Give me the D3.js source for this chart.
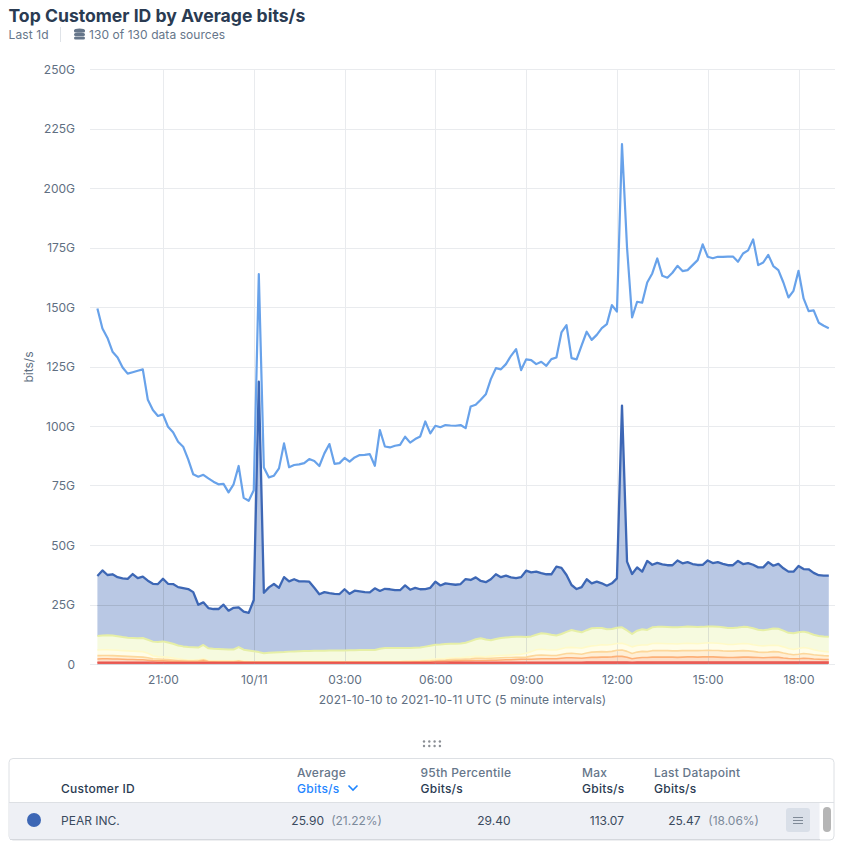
<!DOCTYPE html>
<html><head><meta charset="utf-8">
<script src="https://cdn.jsdelivr.net/npm/d3@7"></script>
<style>
html,body{margin:0;padding:0;background:#fff}
svg{display:block;font-family:Inter,"Noto Sans",sans-serif}
.tick line{display:none}.domain{display:none}
</style></head><body><svg id="c" width="843" height="849"></svg>
<script>
const startTime = "2021-10-10T18:50:00Z";
const stepMinutes = 10;
const yTicks = [0,25,50,75,100,125,150,175,200,225,250];
const xTickTimes = ["2021-10-10T21:00:00Z","2021-10-11T00:00:00Z","2021-10-11T03:00:00Z","2021-10-11T06:00:00Z","2021-10-11T09:00:00Z","2021-10-11T12:00:00Z","2021-10-11T15:00:00Z","2021-10-11T18:00:00Z"];
const xTickLabels = ["21:00","10/11","03:00","06:00","09:00","12:00","15:00","18:00"];

const totalLine = [149.4,141,137,131.2,128.8,124.6,122,122.6,123.2,123.8,
111,106.7,104.2,104.9,99.7,97.4,93.4,91.3,86,79.7,
78.7,79.5,78,76.6,75.5,75.7,72.1,75.5,83.2,69.8,
68.6,73,163.8,82.6,78.4,79.1,82.2,92.7,82.7,83.6,
83.9,84.4,86.1,85.3,83.2,88.5,92.4,84.1,84.4,86.6,
85,86.8,87.8,87.9,88.2,83.3,98.3,91.4,91,91.7,
92.1,95.5,93,94.5,95.6,101.9,96.9,100.1,99.5,100.4,
100.2,100.1,100.4,99.1,108.2,108.9,111,113.3,119.7,124.3,
123.8,126,129.5,132.3,123.5,128,127.7,126,127,125.3,
128.1,128.8,139.3,142.4,128.5,128,133.9,139.6,136.2,138.3,
141.1,142.8,150.8,148.1,218.4,175,145.6,152.2,151.8,160.3,
164.1,170.4,163.1,162.3,164.4,167.3,165.1,165.5,167.6,169.7,
176.3,171.1,170.5,171.1,171.1,171.2,171.2,169,172.5,173.8,
178.4,167.6,168.7,171.9,167.2,165.5,160.3,154,156.8,165.2,
153.6,148.3,148.6,143.4,142.1,141.1];

const pearTop = [37,39.3,37.4,37.7,36.5,36,35.8,37.8,36.1,36.7,
35,33.7,33.6,35.8,33.7,33.6,32.3,31.9,31.5,30.2,
24.9,25.9,23.5,23.1,23.1,24.9,22.4,23.6,23.8,22,
21.5,26.9,118.6,29.9,32.2,33.6,32,36.5,34.7,35.6,
34.7,34.7,34.6,32,29.3,30.2,29.8,29.5,29.4,31.4,
29.5,30.8,30.5,30.2,30.1,31.8,30.7,31.6,31.4,31,
31,33,31.2,32,31.4,31.5,32,34.6,33,33.9,
33.6,33.3,33.6,35.7,35.3,36.4,34.9,34.4,35.6,37.7,
36.5,37.1,36.4,36.1,36.5,39.2,38.5,38.8,38.2,37.7,
37.7,40.9,40.4,37.4,33.2,31.5,32.3,35.6,33.9,34.6,
33.9,32.9,33.9,36,108.6,43,37.8,40.6,38.8,43.3,
41.7,42.5,41.9,41.5,41.5,43.5,42.3,42.8,42,41.6,
41.7,43.5,42.4,42.8,42.1,41.5,41.5,43.3,42,42.4,
41.7,40.6,40.6,42.8,41.3,42.1,40.2,38.8,38.8,41.2,
39.9,39.8,38.3,37.3,37.1,37.1];

const greenTop = [11.8,12,12.1,12,11.7,11.3,11,10.9,10.8,10.9,
10.2,9.4,9.2,9.5,9,8.5,7.8,7.4,7.1,7,
6.9,8,6.6,6.4,6.3,6.2,6.1,6.1,7.1,6,
5.7,5.4,5,4.5,4.7,4.8,4.9,5,5.2,5.3,
5.4,5.5,5.5,5.6,5.6,5.6,5.7,5.7,5.7,5.7,
5.8,5.8,5.9,5.9,5.9,5.9,6.4,6.7,6.7,6.7,
6.7,6.7,6.7,6.8,6.9,7.3,7.7,8.1,8.2,8.4,
8.5,8.5,8.6,8.9,9.6,10.4,10.8,10.3,10,10.5,
10.9,11.1,11.3,11.5,11.4,11.3,11.6,12.3,12.9,12.7,
12.3,12,12.6,13.5,14.3,13.8,13.3,14.2,15,15.1,
15.1,14.6,14.7,15.2,15.4,14.1,12.6,14,14.6,14.3,
15.4,15.6,15.6,15.5,15.4,15.4,15.6,15.8,15.7,15.5,
15.6,15.8,15.8,15.7,15.4,15.1,15.1,15.3,15.6,15.5,
15,14.4,14.2,14.5,14.9,14.8,14,13.1,12.9,13.3,
13.6,13.1,12.3,11.8,11.6,11.5];

const paleTop = [5.9,6,6,5.9,5.8,5.6,5.5,5.4,5.3,5.2,
4.5,3.5,3.1,3,2.8,2.5,2.2,1.9,1.7,1.7,
1.8,2.2,1.5,1.3,1.3,1.3,1.3,1.3,1.5,1.2,
1,0.9,0.85,0.85,0.85,0.85,0.85,0.85,0.85,0.85,
0.85,0.85,0.85,0.85,0.85,0.85,0.85,0.85,0.85,0.85,
0.85,0.85,0.85,0.85,0.9,0.9,0.9,1,1,1,
1.1,1.1,1.2,1.3,1.5,1.7,1.9,2.1,2.2,2.3,
2.5,2.6,2.6,2.8,3,3.2,3.1,3,3.3,3.5,
3.6,3.7,3.8,4,4.1,4.5,5.2,6,6.2,6,
5.9,5.9,6.4,6.9,7,6.8,6.6,7.2,7.6,7.8,
8.1,8,8.2,8.6,8.7,8.1,7.2,7.8,8,8,
8.6,8.7,8.6,8.5,8.5,8.4,8.6,8.7,8.6,8.5,
8.7,8.9,8.8,8.7,8.5,8.2,8.2,8.4,8.6,8.5,
8.1,7.8,7.6,7.8,7.9,7.8,7.2,6.5,6.1,6.5,
6.9,6.6,6,5.6,5.3,5.1];

const lightOrangeTop = [3.5,3.6,3.6,3.5,3.4,3.3,3.2,3.1,3,2.9,
2.6,2.2,2.1,2,1.9,1.7,1.5,1.4,1.3,1.3,
1.4,1.8,1.1,1,1,1,1,1,1.2,0.9,
0.85,0.85,0.85,0.85,0.85,0.85,0.85,0.85,0.85,0.85,
0.85,0.85,0.85,0.85,0.85,0.85,0.85,0.85,0.85,0.85,
0.85,0.85,0.85,0.85,0.85,0.85,0.85,0.9,0.9,0.9,
0.95,1,1,1.05,1.1,1.2,1.3,1.5,1.6,1.7,
1.9,2,2,2.1,2.2,2.4,2.4,2.3,2.4,2.5,
2.6,2.7,2.7,2.8,2.8,2.9,3.3,3.7,3.8,3.7,
3.6,3.6,4,4.4,4.5,4.3,4.1,4.6,5,5.1,
5.2,5.1,5.3,5.8,5.9,5.3,4.4,5,5.3,5.2,
5.6,5.7,5.6,5.6,5.5,5.5,5.6,5.7,5.6,5.6,
5.7,5.8,5.7,5.7,5.5,5.4,5.4,5.5,5.6,5.5,
5.3,5,4.9,5,5.2,5.1,4.6,4.2,3.9,4.1,
4.4,4.2,3.9,3.7,3.5,3.4];

const orangeTop = [2.1,2.2,2.2,2.1,2.1,2,1.9,1.9,1.8,1.8,
1.6,1.4,1.3,1.3,1.2,1.1,1.1,1,0.9,0.9,
1,1.3,0.9,0.9,0.85,0.85,0.85,0.85,1,0.85,
0.8,0.8,0.8,0.8,0.8,0.8,0.8,0.8,0.8,0.8,
0.8,0.8,0.8,0.8,0.8,0.8,0.8,0.8,0.8,0.8,
0.8,0.8,0.8,0.8,0.8,0.8,0.8,0.8,0.8,0.8,
0.85,0.85,0.85,0.9,0.9,0.95,0.95,1,1.1,1.2,
1.2,1.3,1.3,1.4,1.4,1.5,1.5,1.5,1.6,1.6,
1.7,1.8,1.8,1.9,2,2,2,2.1,2.2,2.2,
2.2,2.2,2.4,2.6,2.6,2.5,2.4,2.6,2.8,2.8,
2.9,2.9,3,3.2,3.2,2.8,2.2,2.5,2.7,2.7,
2.9,2.9,2.9,2.9,2.9,2.8,2.9,3,3,2.9,
3,3,3,2.9,2.8,2.7,2.7,2.8,2.9,2.9,
2.8,2.7,2.6,2.7,2.8,2.8,2.5,2.3,2.2,2.2,
2.4,2.3,2.1,2,1.9,1.9];

const redTop = [0.8,0.8,0.8,0.8,0.8,0.8,0.8,0.8,0.8,0.8,
0.8,0.75,0.7,0.7,0.7,0.7,0.7,0.7,0.7,0.7,
0.7,0.7,0.7,0.7,0.7,0.7,0.7,0.7,0.7,0.7,
0.7,0.7,0.7,0.7,0.7,0.7,0.7,0.7,0.7,0.7,
0.7,0.7,0.7,0.7,0.7,0.7,0.7,0.7,0.7,0.7,
0.7,0.7,0.7,0.7,0.7,0.7,0.7,0.7,0.7,0.7,
0.7,0.7,0.7,0.7,0.7,0.7,0.7,0.75,0.75,0.75,
0.8,0.8,0.8,0.8,0.8,0.8,0.8,0.8,0.8,0.8,
0.8,0.8,0.8,0.8,0.8,0.8,0.8,0.85,0.85,0.85,
0.85,0.85,0.85,0.85,0.85,0.85,0.85,0.9,0.9,0.9,
0.9,0.9,0.9,0.9,0.9,0.9,0.85,0.9,0.9,0.9,
0.9,0.95,0.95,0.95,0.95,0.95,0.95,0.95,0.95,0.95,
0.95,0.95,0.95,0.95,0.95,0.95,0.95,0.95,0.95,0.95,
0.95,0.95,0.95,0.95,0.95,0.95,0.9,0.9,0.9,0.9,
0.9,0.9,0.9,0.9,0.9,0.9];

const bandNames = ["red","orange","lightOrange","pale","green","pear"];
const bandTops = [redTop,orangeTop,lightOrangeTop,paleTop,greenTop,pearTop];
const bandStroke = ["#e8554f","#fdb077","#fdd79a","#fffac8","#e6efa6","#3d67b5"];
const bandFill = ["#ea5f58","#fddfc8","#ffefd6","#fffde8","#f6fadf","#3d67b5"];
const bandFillOpacity = [1,1,1,1,1,0.36];
const bandStrokeWidth = [1.2,1.6,1.6,1.6,2,2.3];

const svg = d3.select("#c");
const t0 = new Date(startTime).getTime();
const times = totalLine.map((_,i)=>new Date(t0+i*stepMinutes*60000));
const x = d3.scaleUtc().domain([times[0],times[times.length-1]]).range([97.4,828.8]);
const y = d3.scaleLinear().domain([0,250]).range([664,69]);
const axisColor = "#5f6f82";
const gx = d=>Math.round(x(new Date(d)))+0.5;

// grid
const g = svg.append("g");
g.selectAll(".h").data(yTicks).join("line").attr("x1",90).attr("x2",835)
 .attr("y1",d=>Math.round(y(d))+0.5).attr("y2",d=>Math.round(y(d))+0.5).attr("stroke","#e9ebee");
g.selectAll(".v").data(xTickTimes).join("line")
 .attr("x1",gx).attr("x2",gx).attr("y1",69).attr("y2",664).attr("stroke","#e9ebee");

// stacked bands
bandNames.forEach((n,k)=>{
  const top = bandTops[k];
  const low = k? bandTops[k-1] : null;
  const area = d3.area().x((_,i)=>x(times[i])).y1((_,i)=>y(top[i])).y0((_,i)=>y(low?low[i]:0));
  svg.append("path").attr("d",area(top)).attr("fill",bandFill[k]).attr("fill-opacity",bandFillOpacity[k]);
});
// grid lines showing through the bands
const g2 = svg.append("g").attr("opacity",0.28);
g2.selectAll(".h").data(yTicks.slice(0,2)).join("line").attr("x1",97).attr("x2",828)
 .attr("y1",d=>Math.round(y(d))+0.5).attr("y2",d=>Math.round(y(d))+0.5).attr("stroke","#9aa3ad");
g2.selectAll(".v").data(xTickTimes).join("line")
 .attr("x1",gx).attr("x2",gx)
 .attr("y1",d=>y(pearTop[times.findIndex(t=>t.getTime()===new Date(d).getTime())])).attr("y2",664).attr("stroke","#9aa3ad");

// total line sits under the stacked outlines
svg.append("path").attr("d",d3.line().x((_,i)=>x(times[i])).y((d)=>y(d))(totalLine))
 .attr("fill","none").attr("stroke","#68a2ea").attr("stroke-width",2.2).attr("stroke-linejoin","round");
for(let k=bandNames.length-1;k>=0;k--){
  const top = bandTops[k];
  const line = d3.line().x((_,i)=>x(times[i])).y((_,i)=>y(top[i]));
  svg.append("path").attr("d",line(top)).attr("fill","none").attr("stroke",bandStroke[k]).attr("stroke-width",bandStrokeWidth[k]).attr("stroke-linejoin","round");
}

// axes
const ax = svg.append("g").attr("transform","translate(82,0.5)")
 .call(d3.axisLeft(y).tickValues(yTicks).tickSize(0).tickPadding(7).tickFormat(d=>d?d+"G":"0"));
ax.selectAll("text").attr("fill",axisColor).attr("font-size",12).attr("font-family",'Inter');
const bx = svg.append("g").attr("transform","translate(0,675.5)")
 .call(d3.axisBottom(x).tickValues(xTickTimes.map(d=>new Date(d))).tickSize(0).tickPadding(0).tickFormat((d,i)=>xTickLabels[i]));
bx.selectAll("text").attr("fill",axisColor).attr("font-size",12).attr("font-family",'Inter');

function T(s,px,py,o={}){
  return svg.append("text").text(s).attr("x",px).attr("y",py).attr("font-size",o.size||12)
   .attr("font-weight",o.w||400).attr("fill",o.c||axisColor).attr("text-anchor",o.a||"start")
   .attr("letter-spacing",o.ls||0);
}
svg.append("text").text("bits/s").attr("transform","translate(33,367) rotate(-90)").attr("text-anchor","middle").attr("font-size",12).attr("fill",axisColor);
T("2021-10-10 to 2021-10-11 UTC (5 minute intervals)",462.5,704,{a:"middle",ls:0.11});

// header
T("Top Customer ID by Average bits/s",8.5,22,{size:17.6,w:700,c:"#2a3b52"});
T("Last 1d",8.5,39,{c:"#66768a",ls:0.1});
svg.append("line").attr("x1",60.5).attr("x2",60.5).attr("y1",27).attr("y2",42).attr("stroke","#dfe3e8");
const db=svg.append("g").attr("fill","#66768a");
[29.5,33,36.5].forEach(v=>db.append("rect").attr("x",74).attr("y",v).attr("width",11).attr("height",3).attr("rx",1.5));
db.append("ellipse").attr("cx",79.5).attr("cy",30.5).attr("rx",5.5).attr("ry",2);
T("130 of 130 data sources",89,39,{c:"#66768a",ls:0.06});

// resize handle
const dots=svg.append("g").attr("fill","#8b8f95");
[0,1,2,3].forEach(i=>[741.5,746].forEach(dy=>
  dots.append("circle").attr("cx",424+i*5.3).attr("cy",dy).attr("r",1.2)));

// table
svg.append("rect").attr("x",9).attr("y",758.5).attr("width",825).attr("height",81.5).attr("rx",4).attr("fill","#fff").attr("stroke","#dde0e4");
svg.append("line").attr("x1",9).attr("x2",834).attr("y1",802.5).attr("y2",802.5).attr("stroke","#dde0e4");
svg.append("rect").attr("x",9.5).attr("y",803).attr("width",810).attr("height",36).attr("fill","#eef0f5");
svg.append("line").attr("x1",10).attr("x2",820).attr("y1",839.5).attr("y2",839.5).attr("stroke","#d5d8dd");
const dark="#2a3b52", head="#66768a", body="#3a4a5e", muted="#7c8a9b", link="#1f86ff";
const L=0.25;
T("Customer ID",61,793,{w:500,c:dark,ls:L});
T("Average",297,777,{w:500,c:head,ls:L});
T("Gbits/s",297,793,{w:500,c:link,ls:L});
svg.append("path").attr("d","M348.5 785.5l4.5 4.5l4.5-4.5").attr("fill","none").attr("stroke",link).attr("stroke-width",1.6);
T("95th Percentile",420.5,777,{w:500,c:head,ls:L});
T("Gbits/s",420.5,793,{w:500,c:dark,ls:L});
T("Max",582,777,{w:500,c:head,ls:L});
T("Gbits/s",582,793,{w:500,c:dark,ls:L});
T("Last Datapoint",654,777,{w:500,c:head,ls:L});
T("Gbits/s",654,793,{w:500,c:dark,ls:L});
svg.append("circle").attr("cx",34).attr("cy",820).attr("r",7).attr("fill","#3d67b5");
T("PEAR INC.",61,825,{c:body});
T("25.90",324,825,{c:body,a:"end"});
T("(21.22%)",382,825,{c:muted,a:"end"});
T("29.40",510.5,825,{c:body,a:"end"});
T("113.07",624,825,{c:body,a:"end"});
T("25.47",700.5,825,{c:body,a:"end"});
T("(18.06%)",759,825,{c:muted,a:"end"});
svg.append("rect").attr("x",786).attr("y",808).attr("width",24).attr("height",24).attr("rx",3).attr("fill","#d9dfe8");
[817,820,823].forEach(v=>svg.append("line").attr("x1",793).attr("x2",803).attr("y1",v+0.5).attr("y2",v+0.5).attr("stroke","#7f8a97").attr("stroke-width",1));
svg.append("rect").attr("x",823).attr("y",807).attr("width",8).attr("height",25).attr("rx",4).attr("fill","#b5b5b5");
</script></body></html>
